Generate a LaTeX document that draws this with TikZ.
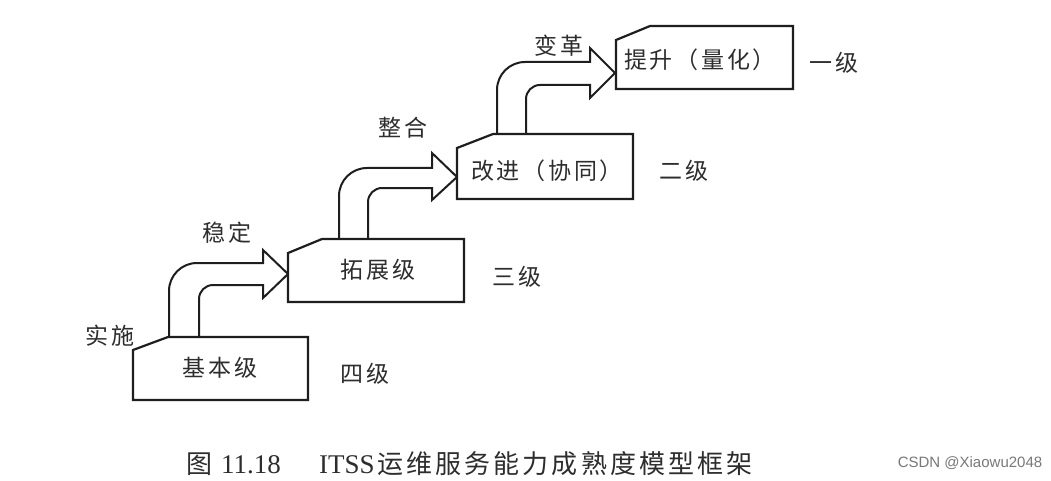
\documentclass[tikz,border=0pt]{standalone}
\usepackage{fontspec}
\setmainfont{Liberation Serif}
\newfontfamily\cjk[LetterSpace=12]{Noto Sans CJK SC}
\newfontfamily\wmfont{Liberation Sans}
\definecolor{ink}{RGB}{30,30,30}
\definecolor{txt}{RGB}{45,45,45}
\definecolor{wm}{RGB}{120,120,120}
\begin{document}
\begin{tikzpicture}[x=1pt,y=-1pt,
  stepbox/.style={draw=ink, fill=white, line width=2.2pt, line join=miter},
  blockarrow/.style={draw=ink, fill=white, line width=2pt, line join=miter},
  boxtext/.style={font=\cjk\fontsize{23}{23}\selectfont, text=txt, inner sep=0pt},
  captext/.style={font=\fontsize{27}{27}\selectfont, text=txt, inner sep=0pt, anchor=base west},
  capcjk/.style={font=\cjk\fontsize{26}{26}\selectfont, text=txt, inner sep=0pt, anchor=base west},
  wmtext/.style={font=\wmfont\fontsize{15}{15}\selectfont, text=wm, inner sep=0pt}
]
\fill[white] (0,0) rectangle (1051,481);
\useasboundingbox (0,0) rectangle (1051,481);

% block arrows (drawn first, boxes cover their feet)
\draw[blockarrow] (169,337) -- (169,291) .. controls (169,275.5) and (181.5,263) .. (197,263)
  -- (263,263) -- (263,250) -- (288,274) -- (263,298) -- (263,285) -- (213,285)
  .. controls (205.3,285) and (199,291.3) .. (199,299) -- (199,337);
\draw[blockarrow] (339,239) -- (339,196) .. controls (339,180.5) and (351.5,168) .. (367,168)
  -- (432,168) -- (432,153) -- (457,177) -- (432,200) -- (432,188) -- (382,188)
  .. controls (374.3,188) and (368,194.3) .. (368,202) -- (368,239);
\draw[blockarrow] (497,134) -- (497,90) .. controls (497,74.5) and (509.5,62) .. (525,62)
  -- (590,62) -- (590,48) -- (615,73) -- (590,98) -- (590,85) -- (540,85)
  .. controls (532.3,85) and (526,91.3) .. (526,99) -- (526,134);

% boxes
\draw[stepbox] (133,400) -- (133,350) -- (168,337) -- (308,337) -- (308,400) -- cycle;
\draw[stepbox] (288,302) -- (288,253) -- (322,239) -- (464,239) -- (464,302) -- cycle;
\draw[stepbox] (457,199) -- (457,148) -- (493,134) -- (633,134) -- (633,199) -- cycle;
\draw[stepbox] (616,89) -- (616,40) -- (650,26) -- (793,26) -- (793,89) -- cycle;

% box texts
\node[boxtext] (t1) at (220,368) {基本级};
\node[boxtext] (t2) at (378,270) {拓展级};
\node[boxtext] (t3) at (547,171) {改进（协同）};
\node[boxtext] (t4) at (700,60) {提升（量化）};

% arrow labels
\node[boxtext] (a0) at (110,336) {实施};
\node[boxtext] (a1) at (227,233) {稳定};
\node[boxtext] (a2) at (403,128) {整合};
\node[boxtext] (a3) at (559,46) {变革};

% level labels
\node[boxtext] (l1) at (834,63) {一级};
\node[boxtext] (l2) at (684,171) {二级};
\node[boxtext] (l3) at (517,277) {三级};
\node[boxtext] (l4) at (365,374) {四级};

% caption
\node[capcjk] (c1) at (186,473) {图};
\node[captext] (c2) at (221,473) {11.18};
\node[captext] (c3) at (319,473) {ITSS};
\node[capcjk] (c4) at (377,473) {运维服务能力成熟度模型框架};

% watermark
\node[wmtext] (w) at (970,463) {CSDN @Xiaowu2048};
\end{tikzpicture}
\end{document}
